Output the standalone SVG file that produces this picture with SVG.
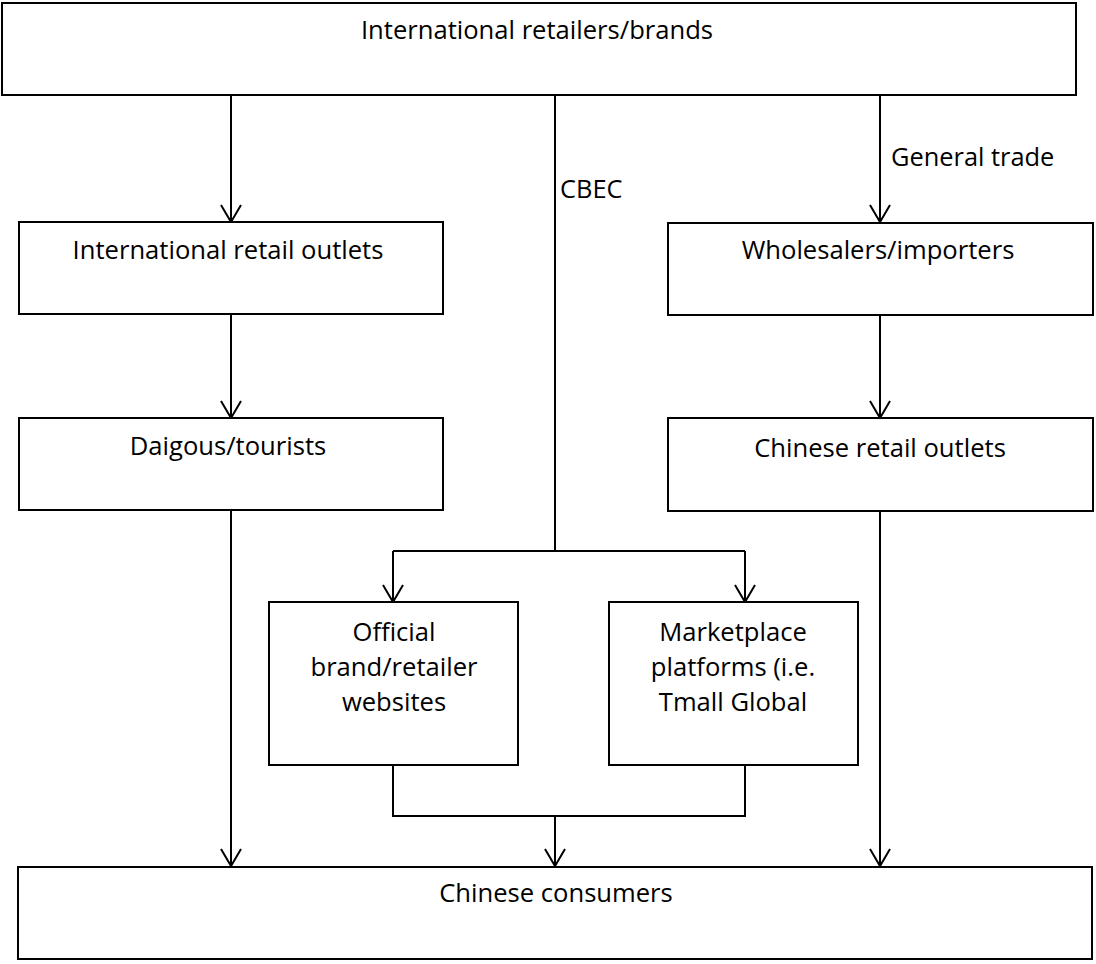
<svg xmlns="http://www.w3.org/2000/svg" width="1096" height="964" viewBox="0 0 1096 964">
<style>
.box{fill:#fff;stroke:#000;stroke-width:2}
.t{font-family:"Open Sans","Liberation Sans",sans-serif;font-size:25.6px;fill:#000;text-anchor:middle}
.lbl{font-family:"Open Sans","Liberation Sans",sans-serif;font-size:25.4px;fill:#000}
.c{fill:none;stroke:#000;stroke-width:2}
</style>
<defs>
<marker id="ah" markerUnits="userSpaceOnUse" viewBox="-20 -12 22 24" refX="0" refY="0" markerWidth="22" markerHeight="24" orient="auto" overflow="visible">
<path d="M-17,-10 L0,0 L-17,10" fill="none" stroke="#000" stroke-width="2"/>
</marker>
</defs>
<g id="connectors">
<path class="c" d="M231,95 V222" marker-end="url(#ah)"/>
<path class="c" d="M231,314 V418" marker-end="url(#ah)"/>
<path class="c" d="M231,510 V866" marker-end="url(#ah)"/>
<path class="c" d="M880,95 V222" marker-end="url(#ah)"/>
<path class="c" d="M880,315 V418" marker-end="url(#ah)"/>
<path class="c" d="M880,511 V866" marker-end="url(#ah)"/>
<path class="c" d="M555,95 V551"/>
<path class="c" d="M393,551 H745"/>
<path class="c" d="M393,551 V602" marker-end="url(#ah)"/>
<path class="c" d="M745,551 V602" marker-end="url(#ah)"/>
<path class="c" d="M393,765 V816 H745 V765"/>
<path class="c" d="M555,816 V866" marker-end="url(#ah)"/>
<text class="lbl" x="560" y="198">CBEC</text>
<text class="lbl" x="891" y="166">General trade</text>
</g>
<g id="n-top"><rect class="box" x="2" y="3" width="1074" height="92"/><text class="t" x="537" y="39">International retailers/brands</text></g>
<g id="n-iro"><rect class="box" x="19" y="222" width="424" height="92"/><text class="t" x="228" y="259">International retail outlets</text></g>
<g id="n-daigou"><rect class="box" x="19" y="418" width="424" height="92"/><text class="t" x="228" y="455">Daigous/tourists</text></g>
<g id="n-whole"><rect class="box" x="668" y="223" width="425" height="92"/><text class="t" x="878" y="259">Wholesalers/importers</text></g>
<g id="n-cro"><rect class="box" x="668" y="418" width="425" height="93"/><text class="t" x="880" y="457">Chinese retail outlets</text></g>
<g id="n-official"><rect class="box" x="269" y="602" width="249" height="163"/><text class="t" x="394" y="641">Official</text><text class="t" x="394" y="676">brand/retailer</text><text class="t" x="394" y="711">websites</text></g>
<g id="n-market"><rect class="box" x="609" y="602" width="249" height="163"/><text class="t" x="733" y="641">Marketplace</text><text class="t" x="733" y="676">platforms (i.e.</text><text class="t" x="733" y="711">Tmall Global</text></g>
<g id="n-consumers"><rect class="box" x="18" y="867" width="1074" height="92"/><text class="t" x="556" y="902">Chinese consumers</text></g>
</svg>
